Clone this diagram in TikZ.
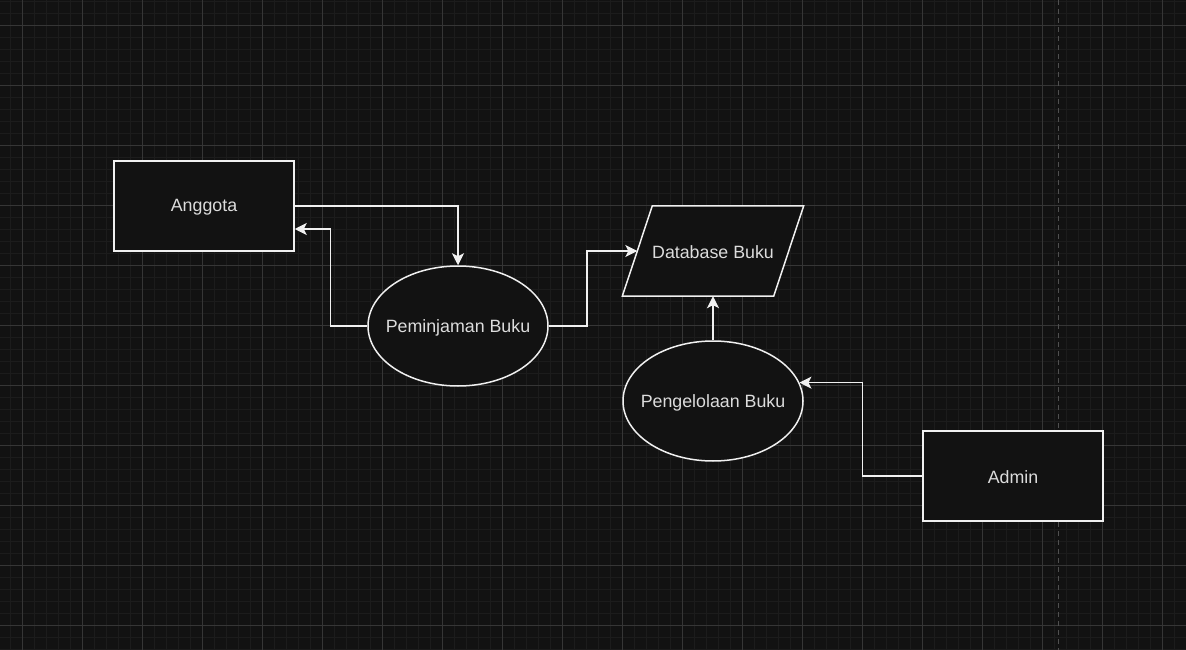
\documentclass[tikz,border=0pt]{standalone}
\usepackage{fontspec}
\setmainfont{Liberation Sans}
\usetikzlibrary{shapes.geometric,arrows.meta}
\definecolor{bgdark}{HTML}{121212}
\definecolor{gridminor}{HTML}{1C1C1C}
\definecolor{gridmajor}{HTML}{363636}
\definecolor{dashgrey}{HTML}{505050}
\definecolor{edgewhite}{HTML}{F0F0F0}
\definecolor{textgrey}{HTML}{DCDCDC}
\tikzset{
  caption/.style={label={[text=textgrey, font=\fontsize{17.8}{21}\selectfont, yshift=-1.5pt]center:#1}},
  shapebase/.style={draw=edgewhite, fill=bgdark, line width=1.5pt, inner sep=0pt},
  entity/.style={shapebase, rectangle, minimum width=180pt, minimum height=90pt, caption=#1},
  process/.style={shapebase, ellipse, minimum width=180pt, minimum height=120pt, caption=#1},
  datastore/.style={rectangle, minimum width=151pt, minimum height=90pt, inner sep=0pt, caption=#1},
  flow/.style={draw=edgewhite, line width=1.5pt, -{Stealth[length=12pt,width=12pt,inset=3pt]}}
}
\begin{document}
\begin{tikzpicture}[x=1pt,y=-1pt]
    \fill[bgdark] (0,0) rectangle (1186,650);
    \useasboundingbox (0,0) rectangle (1186,650);

    \foreach \gx in {10.5,22.5,...,1186} \draw[gridminor, line width=1pt] (\gx,0) -- (\gx,650);
    \foreach \gy in {1.3,13.3,...,650} \draw[gridminor, line width=1pt] (0,\gy) -- (1186,\gy);
    \foreach \gx in {22.5,82.5,...,1186} \draw[gridmajor, line width=1pt] (\gx,0) -- (\gx,650);
    \foreach \gy in {25.3,85.3,...,650} \draw[gridmajor, line width=1pt] (0,\gy) -- (1186,\gy);
    \draw[dashgrey, line width=1pt, dash pattern=on 5pt off 4pt] (1058.7,0) -- (1058.7,650);

    \node[entity={Anggota}] (anggota) at (204,206) {};
    \node[process={Peminjaman Buku}] (pinjam) at (458,326) {};
    \node[datastore={Database Buku}] (dbbuku) at (713,251) {};
    \node[process={Pengelolaan Buku}] (kelola) at (713,401) {};
    \node[entity={Admin}] (admin) at (1013,476) {};

    \draw[shapebase] ([xshift=-15pt]dbbuku.south west) -- ([xshift=15pt]dbbuku.north west)
        -- ([xshift=15pt]dbbuku.north east) -- ([xshift=-15pt]dbbuku.south east) -- cycle;
    \path (dbbuku) node[text=textgrey, font=\fontsize{17.8}{21}\selectfont, yshift=-1.5pt] {Database Buku};

    \draw[flow] (anggota.east) -| (pinjam.north);
    \draw[flow] (pinjam.west) -- ++(-37,0) |- ([yshift=-23pt]anggota.east);
    \draw[flow] (pinjam.east) -- ++(38,0) |- (dbbuku.west);
    \draw[flow] (kelola.north) -- (dbbuku.south);
    \draw[flow] (admin.west) -- ++(-60,0) |- (kelola.12);
\end{tikzpicture}
\end{document}
